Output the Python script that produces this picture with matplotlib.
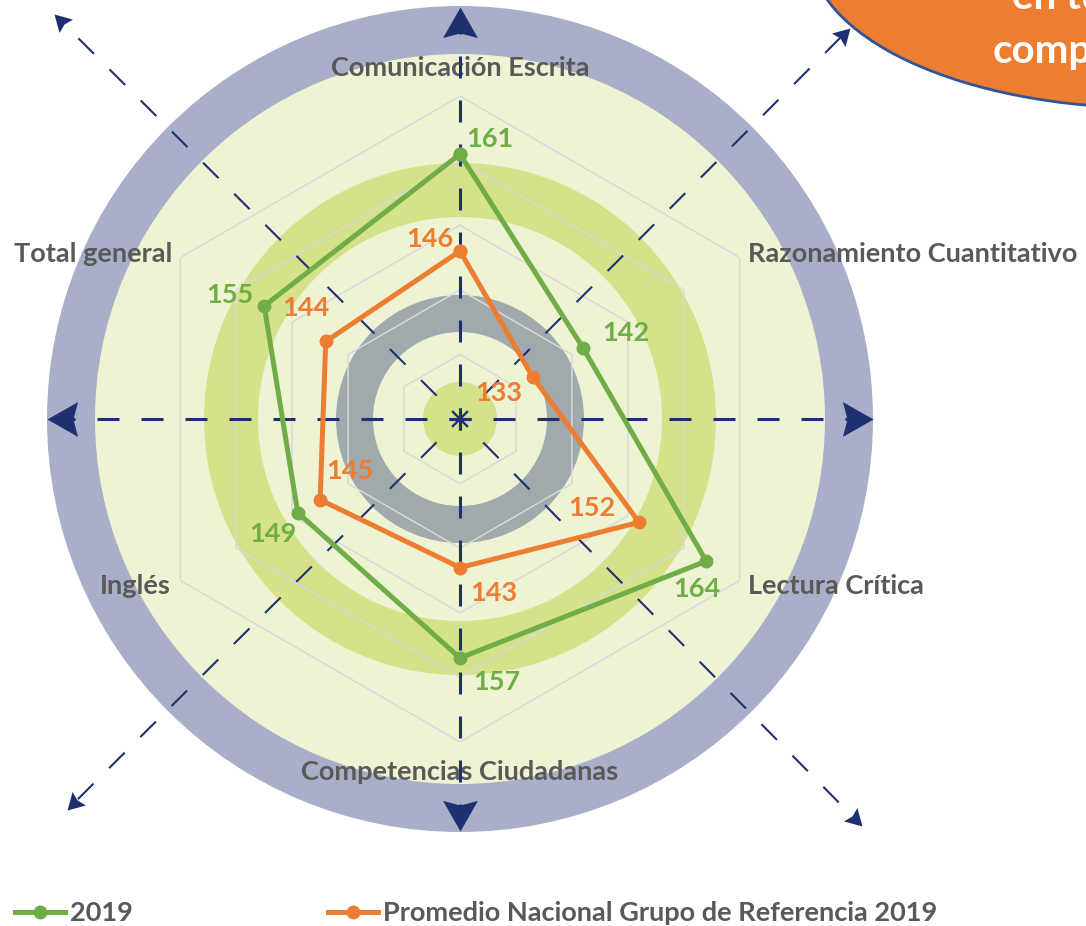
import numpy as np
import matplotlib
matplotlib.use("Agg")
import matplotlib.pyplot as plt
from matplotlib.patches import Circle, Ellipse
from matplotlib.path import Path
from matplotlib.markers import MarkerStyle
from matplotlib.transforms import Affine2D

plt.rcParams["font.family"] = ["Lato", "DejaVu Sans"]
plt.rcParams["font.weight"] = "bold"

categories = ["Comunicación Escrita", "Razonamiento Cuantitativo", "Lectura Crítica",
              "Competencias Ciudadanas", "Inglés", "Total general"]
serie_2019 = [161, 142, 164, 157, 149, 155]
serie_ref = [146, 133, 152, 143, 145, 144]
names = ["2019", "Promedio Nacional Grupo de Referencia 2019"]
r_min, r_max = 120, 170
r_grid = [130, 140, 150, 160, 170]

green = "#70ad47"
orange = "#ed7d31"
navy = "#1f3070"
txt_gray = "#595959"
fs = 19.5

W, H = 1086, 926
cx, cy, R = 460, 419, 323  # radar centre / radius in pixels

fig = plt.figure(figsize=(W / 100, H / 100), dpi=100)

# background layer in pixel coordinates
bg = fig.add_axes([0, 0, 1, 1])
bg.set_xlim(0, W)
bg.set_ylim(H, 0)
bg.axis("off")
for rad, col in [(413, "#a9afc9"), (365, "#eef3d4"), (256, "#d6e28a"), (202, "#eef3d4"),
                 (124, "#a0a9ac"), (87, "#eef3d4"), (37, "#d6e28a")]:
    bg.add_patch(Circle((cx, cy), rad, fc=col, ec="none"))

# orange bubble top right
bg.add_patch(Ellipse((1150, -50), 680, 316, fc=orange, ec="#2f5597", lw=2, zorder=5))
bg.text(1012, 9, "en tus", color="white", fontsize=29, fontweight="bold",
        ha="left", va="baseline", zorder=6)
bg.text(993, 63, "competencias", color="white", fontsize=29, fontweight="bold",
        ha="left", va="baseline", zorder=6)

# radar axes
ax = fig.add_axes([(cx - R) / W, (H - cy - R) / H, 2 * R / W, 2 * R / H],
                  projection="polar")
ax.set_theta_offset(np.pi / 2)
ax.set_theta_direction(-1)
ax.set_ylim(r_min, r_max)
ax.grid(False)
ax.set_xticks([])
ax.set_yticks([])
ax.spines["polar"].set_visible(False)
ax.patch.set_alpha(0)

theta = np.linspace(0, 2 * np.pi, len(categories), endpoint=False)
theta_c = np.append(theta, theta[0])

for lv in r_grid:
    ax.plot(theta_c, [lv] * len(theta_c), color="#d9d9d9", lw=1.1, zorder=1)

# dashed arrows (drawn in pixel space, each from the centre out to its tip)
head = Path([(0, 0), (0.57, -1), (0, -0.85), (-0.57, -1), (0, 0)],
            [Path.MOVETO, Path.LINETO, Path.LINETO, Path.LINETO, Path.CLOSEPOLY])


def arrow(tip, lw, ms, rot):
    tx, ty = tip
    d = np.hypot(tx - cx, ty - cy)
    ux, uy = (tx - cx) / d, (ty - cy) / d
    on = 22 * 0.72 / lw
    ax.plot([cx - ux * 11, tx - ux * 14], [cy - uy * 11, ty - uy * 14], color=navy, lw=lw,
            dashes=(on, on), transform=bg.transData, clip_on=False, zorder=2)
    ax.plot([tx], [ty], ls="none", color=navy,
            marker=MarkerStyle(head, transform=Affine2D().rotate_deg(rot)),
            ms=ms, mew=0, transform=bg.transData, clip_on=False, zorder=2)


arrow((460, 7), 2.2, 44, 0)
arrow((460, 831), 2.2, 44, 180)
arrow((47, 419), 2.2, 44, 90)
arrow((873, 419), 2.2, 44, -90)
arrow((54, 14), 1.5, 24, 45)
arrow((850, 28), 1.5, 24, -45)
arrow((67, 810), 1.5, 24, 135)
arrow((862, 826), 1.5, 24, -135)

l1, = ax.plot(theta_c, serie_2019 + serie_2019[:1], color=green, lw=3.6, marker="o",
              ms=9, zorder=3, clip_on=False)
l2, = ax.plot(theta_c, serie_ref + serie_ref[:1], color=orange, lw=3.6, marker="o",
              ms=9, zorder=3, clip_on=False)

off_2019 = [(30, -15), (43, -15), (-9, 28), (37, 24), (-25, 21), (-34, -11)]
off_ref = [(-30, -12), (-34, 16), (-47, -14), (34, 25), (30, -29), (-20, -33)]
for t, v, o in zip(theta, serie_2019, off_2019):
    ax.annotate(str(v), (t, v), xytext=(o[0], -o[1]), textcoords="offset pixels",
                ha="center", va="center", color=green, fontsize=fs, fontweight="bold",
                zorder=4)
for t, v, o in zip(theta, serie_ref, off_ref):
    ax.annotate(str(v), (t, v), xytext=(o[0], -o[1]), textcoords="offset pixels",
                ha="center", va="center", color=orange, fontsize=fs, fontweight="bold",
                zorder=4)

# category labels
lab_pos = [(460, 68, "center"), (748, 254, "left"), (748, 586, "left"),
           (460, 772, "center"), (171, 586, "right"), (172, 254, "right")]
for name, (x, y, ha) in zip(categories, lab_pos):
    bg.text(x, y, name, ha=ha, va="center", color=txt_gray, fontsize=fs,
            fontweight="bold", zorder=7)

fig.legend([l1, l2], names, loc="center left", bbox_to_anchor=(15 / W, 13 / H),
           ncol=2, frameon=False, fontsize=fs, handlelength=1.85, handletextpad=0.19,
           columnspacing=7.2, borderpad=0, borderaxespad=0, labelcolor=txt_gray)

fig.savefig("out.png", dpi=100)
